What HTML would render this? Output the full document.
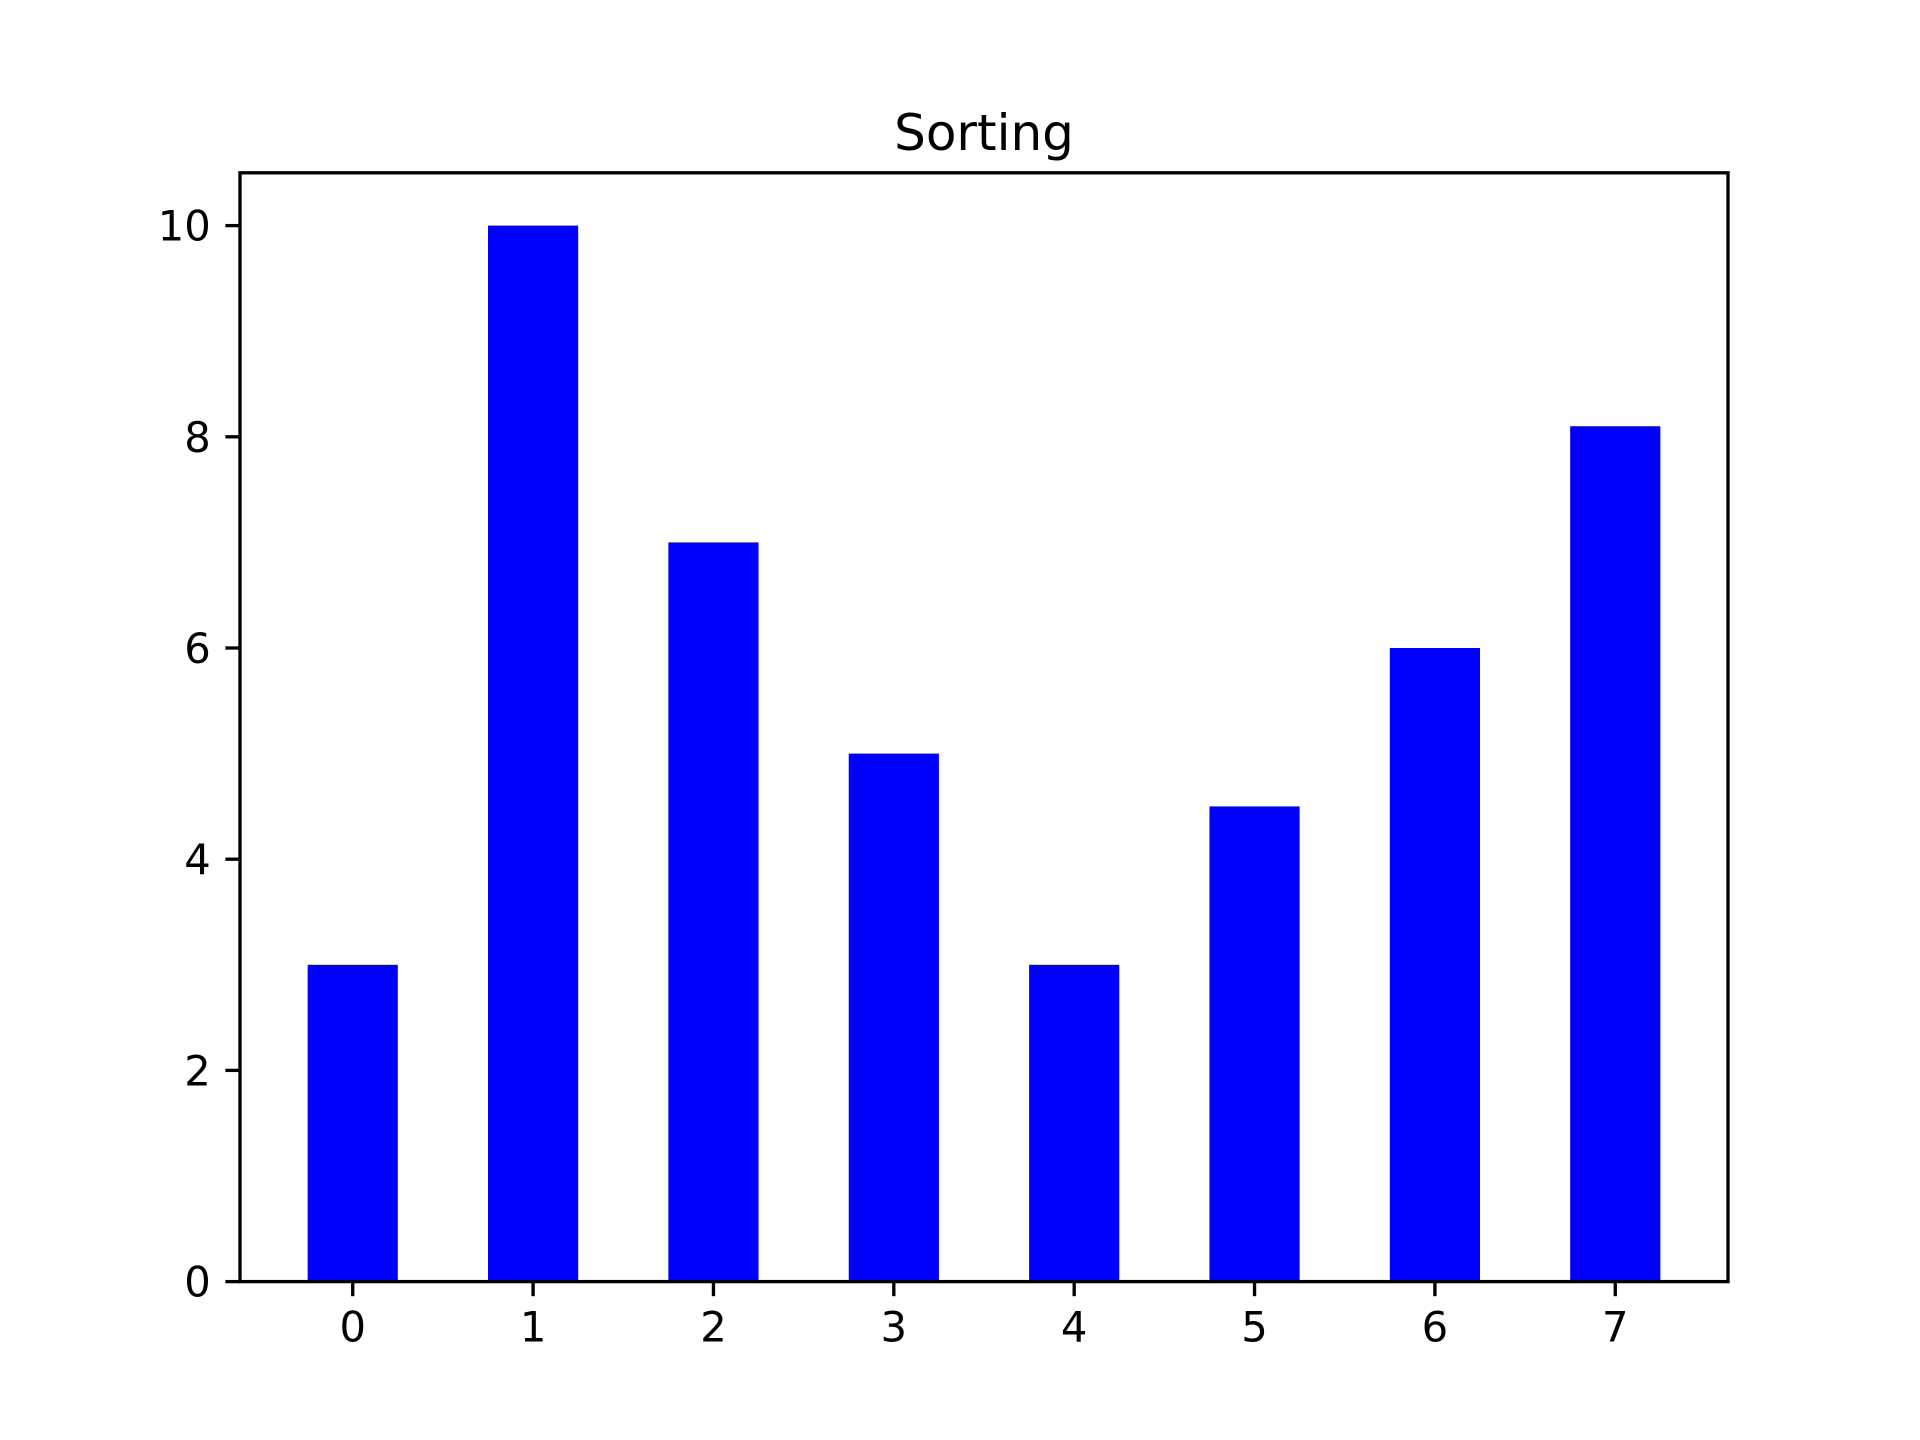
<!DOCTYPE html>
<html><head><meta charset="utf-8"><style>html,body{margin:0;padding:0;background:#fff}svg{display:block}</style></head>
<body>
<svg id="chart" width="1920" height="1440" viewBox="0 0 1920 1440" xmlns="http://www.w3.org/2000/svg" font-family="'DejaVu Sans','Liberation Sans',sans-serif">
<rect width="1920" height="1440" fill="#fff"/>
<text x="984" y="150" font-size="50" text-anchor="middle">Sorting</text>
<g id="bars"></g><g id="ticks"></g>
<rect x="240" y="172.8" width="1488" height="1108.8" fill="none" stroke="#000" stroke-width="3.33"/>
</svg>
<script>
const categories = ["0","1","2","3","4","5","6","7"];
const values = [3, 10, 7, 5, 3, 4.5, 6, 8.1];
const yTicks = [0, 2, 4, 6, 8, 10];
const L=240,R=1728,T=172.8,B=1281.6;
const xMin=-0.625,xMax=7.625,yMin=0,yMax=10.5,barW=0.5;
const xs=v=>L+(v-xMin)/(xMax-xMin)*(R-L);
const ys=v=>B-(v-yMin)/(yMax-yMin)*(B-T);
const NS="http://www.w3.org/2000/svg";
const bars=document.getElementById('bars'),ticks=document.getElementById('ticks');
function mk(tag,attrs,parent){const e=document.createElementNS(NS,tag);for(const k in attrs)e.setAttribute(k,attrs[k]);parent.appendChild(e);return e;}
values.forEach((v,i)=>{
  const r=mk('rect',{x:xs(i-barW/2),y:ys(v),width:xs(i+barW/2)-xs(i-barW/2),height:ys(0)-ys(v),fill:'#0000ff'},bars);
  
  
});
categories.forEach((c,i)=>{
  const x=xs(i);
  const l=mk('line',{x1:x,x2:x,y1:B,y2:B+14.6,stroke:'#000','stroke-width':3.33},ticks);
  
  
  const t=mk('text',{x:x,y:B+60,'font-size':41.7,'text-anchor':'middle'},ticks);
  t.textContent=c;
  
  
});
yTicks.forEach(v=>{
  const y=ys(v);
  const l=mk('line',{x1:L-14.6,x2:L,y1:y,y2:y,stroke:'#000','stroke-width':3.33},ticks);
  
  
  const t=mk('text',{x:L-29.2,y:y+15,'font-size':41.7,'text-anchor':'end'},ticks);
  t.textContent=String(v);
  
  
});
</script>
</body></html>
